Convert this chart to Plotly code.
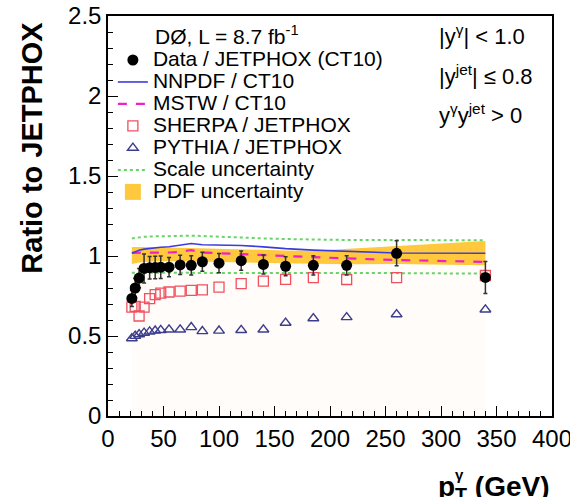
import plotly.graph_objects as go

# ---- data ----
pt = [21.5, 24.5, 28, 32.5, 37.5, 42.5, 47.5, 55, 65, 75, 85, 100, 120, 140, 160, 185, 215, 260, 340]
data_ratio = [0.735, 0.80, 0.862, 0.922, 0.927, 0.928, 0.93, 0.93, 0.944, 0.942, 0.964, 0.955,
              0.971, 0.947, 0.936, 0.942, 0.942, 1.017, 0.866]
data_err = [0.05, 0.06, 0.06, 0.09, 0.07, 0.07, 0.07, 0.06, 0.06, 0.06, 0.06, 0.06,
            0.06, 0.06, 0.06, 0.06, 0.06, 0.078, 0.10]
nnpdf = [1.018, 1.027, 1.036, 1.043, 1.048, 1.052, 1.055, 1.058, 1.066, 1.078, 1.07, 1.068,
         1.066, 1.057, 1.046, 1.037, 1.029, 1.019, 1.017]
mstw = [1.02, 1.02, 1.02, 1.021, 1.021, 1.021, 1.022, 1.022, 1.026, 1.037, 1.022, 1.017,
        1.013, 1.007, 1.0, 0.993, 0.985, 0.975, 0.963]
sherpa = [0.68, 0.685, 0.625, 0.68, 0.733, 0.758, 0.768, 0.775, 0.78, 0.785, 0.788, 0.805,
          0.827, 0.843, 0.854, 0.865, 0.853, 0.865, 0.878]
pythia = [0.485, 0.5, 0.51, 0.52, 0.527, 0.533, 0.537, 0.54, 0.54, 0.555, 0.53, 0.533,
          0.537, 0.54, 0.582, 0.61, 0.617, 0.635, 0.665]
scale_hi = [1.11, 1.114, 1.117, 1.12, 1.122, 1.123, 1.124, 1.125, 1.126, 1.127, 1.125, 1.12,
            1.115, 1.11, 1.106, 1.103, 1.1, 1.1, 1.098]
scale_lo = [0.895] * 17 + [0.893, 0.89]
pdf_hi = [1.057, 1.058, 1.058, 1.057, 1.056, 1.055, 1.055, 1.054, 1.053, 1.052, 1.05, 1.046,
          1.042, 1.038, 1.035, 1.033, 1.045, 1.063, 1.093]
pdf_lo = [0.95, 0.955, 0.96, 0.963, 0.965, 0.966, 0.967, 0.967, 0.967, 0.967, 0.965, 0.962,
          0.959, 0.956, 0.954, 0.952, 0.948, 0.95, 0.942]

x_ticks = [0, 50, 100, 150, 200, 250, 300, 350, 400]
y_ticks = [0, 0.5, 1, 1.5, 2, 2.5]
y_ticktext = ["0", "0.5", "1", "1.5", "2", "2.5"]

FONT = "Liberation Sans"
LEG = '<span style="font-size:21px">{}</span>'

fig = go.Figure()

# faint area under the PDF band
fig.add_trace(go.Scatter(x=pt, y=pdf_lo, mode="lines", line=dict(width=0),
                         fill="tozeroy", fillcolor="rgba(255,215,170,0.07)",
                         showlegend=False, hoverinfo="skip"))
# PDF band
fig.add_trace(go.Scatter(x=pt, y=pdf_hi, mode="lines", line=dict(width=0, color="#ffc83d"),
                         showlegend=False, hoverinfo="skip"))
fig.add_trace(go.Scatter(x=pt, y=pdf_lo, mode="lines", line=dict(width=0, color="#ffc83d"),
                         fill="tonexty", fillcolor="#ffc83d", showlegend=False))
fig.add_trace(go.Scatter(x=[None], y=[None], mode="markers",
                         marker=dict(symbol="square", size=16, color="#ffc83d"),
                         name=LEG.format("PDF uncertainty"), legendrank=7))
# scale uncertainty
fig.add_trace(go.Scatter(x=pt, y=scale_hi, mode="lines",
                         line=dict(color="#66d466", width=2, dash="dot"),
                         name=LEG.format("Scale uncertainty"), legendrank=6))
fig.add_trace(go.Scatter(x=pt, y=scale_lo, mode="lines",
                         line=dict(color="#66d466", width=2, dash="dot"), showlegend=False))
# theory lines
fig.add_trace(go.Scatter(x=pt, y=mstw, mode="lines",
                         line=dict(color="#f020c8", width=2.2, dash="dash"),
                         name=LEG.format("MSTW / CT10"), legendrank=3))
fig.add_trace(go.Scatter(x=pt, y=nnpdf, mode="lines",
                         line=dict(color="#3c3cdc", width=1.6),
                         name=LEG.format("NNPDF / CT10"), legendrank=2))
# MC
fig.add_trace(go.Scatter(x=pt, y=sherpa, mode="markers",
                         marker=dict(symbol="square-open", size=10, color="#f0505f", line=dict(width=1.3)),
                         name=LEG.format("SHERPA / JETPHOX"), legendrank=4))
fig.add_trace(go.Scatter(x=pt, y=pythia, mode="markers",
                         marker=dict(symbol="triangle-up-open", size=9.5, color="#3c3c8c", line=dict(width=1.4)),
                         name=LEG.format("PYTHIA / JETPHOX"), legendrank=5))
# data
fig.add_trace(go.Scatter(x=pt, y=data_ratio, mode="markers",
                         marker=dict(symbol="circle", size=11, color="black"),
                         error_y=dict(type="data", array=data_err, color="#333333", thickness=1.5, width=2),
                         name=LEG.format("Data / JETPHOX (CT10)"), legendrank=1))

axis_common = dict(showline=True, linecolor="black", linewidth=1.5, mirror=True,
                   ticks="inside", ticklen=10, tickwidth=1.2, tickcolor="black",
                   showgrid=False, zeroline=False, ticklabeloverflow="allow", automargin=False,
                   tickfont=dict(family=FONT, size=24, color="black"))
fig.update_xaxes(range=[0, 400], tickvals=x_ticks, ticktext=[str(v) for v in x_ticks],
                 minor=dict(ticks="inside", ticklen=5, dtick=10, tickcolor="black", tickwidth=1),
                 **axis_common)
fig.update_yaxes(range=[0, 2.5], tickvals=y_ticks, ticktext=y_ticktext,
                 minor=dict(ticks="inside", ticklen=5, dtick=0.1, tickcolor="black", tickwidth=1),
                 **axis_common)

annotations = [
    dict(text="DØ, L = 8.7 fb<sup>-1</sup>", x=0.101, y=0.953, xanchor="left", yanchor="middle",
         font=dict(size=21)),
    dict(text="|y<sup>γ</sup>| < 1.0", x=0.741, y=0.953, xanchor="left", yanchor="middle",
         font=dict(size=22)),
    dict(text="|y<sup>jet</sup>| ≤ 0.8", x=0.741, y=0.853, xanchor="left", yanchor="middle",
         font=dict(size=22)),
    dict(text="y<sup>γ</sup>y<sup>jet</sup> > 0", x=0.741, y=0.754, xanchor="left", yanchor="middle",
         font=dict(size=22)),
    dict(text="<b>Ratio to JETPHOX</b>", x=-0.171, y=0.671, textangle=-90,
         xanchor="center", yanchor="middle", font=dict(size=29)),
    dict(text="<b>p<sub>T</sub> (GeV)</b>", x=1.0, y=-0.18, xanchor="right", yanchor="middle",
         font=dict(size=28)),
    dict(text="<b>γ</b>", x=0.792, y=-0.145, xanchor="center", yanchor="middle",
         font=dict(size=15)),
]
for a in annotations:
    a.update(xref="paper", yref="paper", showarrow=False)
    a["font"].update(family=FONT, color="black")

fig.update_layout(
    width=570, height=497,
    margin=dict(l=108, r=18, t=16, b=81, autoexpand=False),
    paper_bgcolor="white", plot_bgcolor="white",
    font=dict(family=FONT, color="black"),
    showlegend=True,
    legend=dict(x=0.011, y=0.93, xanchor="left", yanchor="top",
                bgcolor="rgba(0,0,0,0)", borderwidth=0,
                font=dict(family=FONT, size=14.6, color="black"),
                traceorder="normal"),
    annotations=annotations,
)

fig.write_html("out.html")
